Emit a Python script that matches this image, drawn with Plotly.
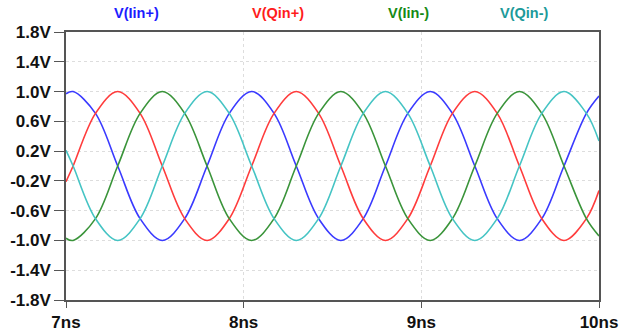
import plotly.graph_objects as go

# time samples (ns): peaks, zero crossings and crossing points
time_ns = [7.0, 7.040, 7.166, 7.291, 7.417, 7.542, 7.668, 7.794, 7.919,
           8.045, 8.171, 8.296, 8.422, 8.547, 8.673, 8.798, 8.924,
           9.050, 9.175, 9.301, 9.427, 9.552, 9.678, 9.803, 9.929, 10.0]

v_iin_p = [0.97, 1.0, 0.707, 0.0, -0.707, -1.0, -0.707, 0.0, 0.707,
           1.0, 0.707, 0.0, -0.707, -1.0, -0.707, 0.0, 0.707,
           1.0, 0.707, 0.0, -0.707, -1.0, -0.707, 0.0, 0.707, 0.94]
v_qin_p = [-0.21, 0.0, 0.707, 1.0, 0.707, 0.0, -0.707, -1.0, -0.707,
           0.0, 0.707, 1.0, 0.707, 0.0, -0.707, -1.0, -0.707,
           0.0, 0.707, 1.0, 0.707, 0.0, -0.707, -1.0, -0.707, -0.33]
v_iin_m = [-0.97, -1.0, -0.707, 0.0, 0.707, 1.0, 0.707, 0.0, -0.707,
           -1.0, -0.707, 0.0, 0.707, 1.0, 0.707, 0.0, -0.707,
           -1.0, -0.707, 0.0, 0.707, 1.0, 0.707, 0.0, -0.707, -0.94]
v_qin_m = [0.21, 0.0, -0.707, -1.0, -0.707, 0.0, 0.707, 1.0, 0.707,
           0.0, -0.707, -1.0, -0.707, 0.0, 0.707, 1.0, 0.707,
           0.0, -0.707, -1.0, -0.707, 0.0, 0.707, 1.0, 0.707, 0.335]

series_names = ["V(Iin+)", "V(Qin+)", "V(Iin-)", "V(Qin-)"]
line_colors = ["#3a3aff", "#ff3c3c", "#3a943a", "#45c4c4"]
label_colors = ["#1c1cff", "#ff1c1c", "#168a16", "#1c9a9a"]

x_tickvals = [7, 8, 9, 10]
x_ticktext = ["7ns", "8ns", "9ns", "10ns"]
y_tickvals = [-1.8, -1.4, -1.0, -0.6, -0.2, 0.2, 0.6, 1.0, 1.4, 1.8]
y_ticktext = ["-1.8V", "-1.4V", "-1.0V", "-0.6V", "-0.2V", "0.2V", "0.6V", "1.0V", "1.4V", "1.8V"]

L, R, T, B = 66, 37, 32, 32
W, H = 636, 332

fig = go.Figure()
for name, ys, col in zip(series_names, [v_iin_p, v_qin_p, v_iin_m, v_qin_m], line_colors):
    fig.add_trace(go.Scatter(x=time_ns, y=ys, mode="lines", name=name,
                             line=dict(color=col, width=1.6, shape="spline", smoothing=1.0)))

label_px = [136, 278, 408, 524]
plot_w = W - L - R
plot_h = H - T - B
for name, col, lx in zip(series_names, label_colors, label_px):
    fig.add_annotation(text="<b>" + name + "</b>",
                       x=(lx - L) / plot_w, y=(H - B - 13) / plot_h,
                       xref="paper", yref="paper", showarrow=False,
                       font=dict(color=col, size=14.5, family="Liberation Sans, Arial"),
                       xanchor="center", yanchor="middle")

fig.update_layout(
    width=W, height=H,
    margin=dict(l=L, r=R, t=T, b=B),
    paper_bgcolor="white", plot_bgcolor="white",
    showlegend=False,
    font=dict(family="Liberation Sans, Arial", color="#111111"),
)
fig.update_xaxes(range=[7, 10], tickvals=x_tickvals,
                 ticktext=["<b>" + t + "</b>" for t in x_ticktext],
                 automargin=False,
                 showline=True, linecolor="#555555", linewidth=1.5, mirror=True,
                 ticks="outside", ticklen=6, tickcolor="#555555",
                 showgrid=True, gridcolor="#dddddd", griddash="dot", gridwidth=1,
                 tickfont=dict(size=17, family="Liberation Sans, Arial", color="#111111"),
                 zeroline=False)
fig.update_yaxes(range=[-1.8, 1.8], tickvals=y_tickvals,
                 ticktext=["<b>" + t + "</b>" for t in y_ticktext],
                 automargin=False,
                 showline=True, linecolor="#555555", linewidth=1.5, mirror=True,
                 ticks="outside", ticklen=10, tickcolor="#555555",
                 showgrid=True, gridcolor="#dddddd", griddash="dot", gridwidth=1,
                 tickfont=dict(size=17, family="Liberation Sans, Arial", color="#111111"),
                 zeroline=False)

fig.write_html("out.html", config={"displayModeBar": False},
               post_script="document.body.style.margin='0';document.body.style.padding='0';")
